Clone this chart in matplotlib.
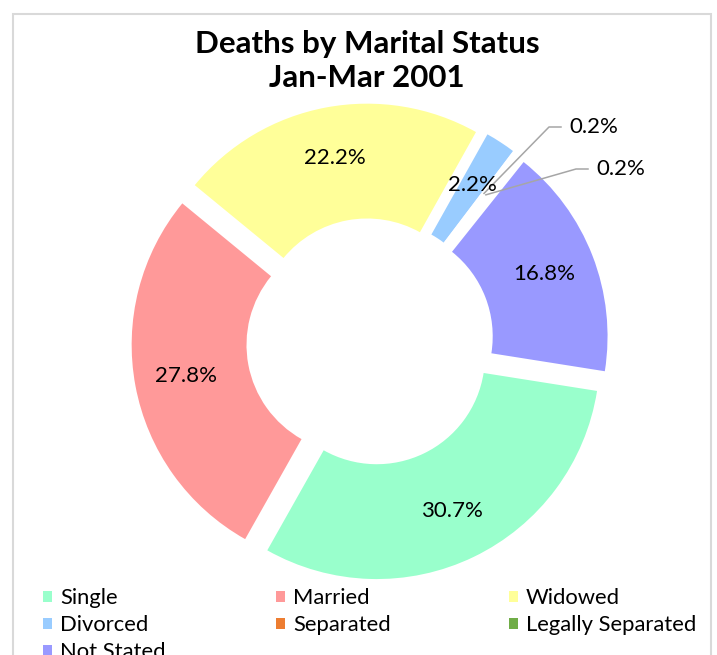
#!/usr/bin/env python3
# coding: utf-8

"""Donut chart of deaths by marital status, Jan-Mar 2001."""

import matplotlib
matplotlib.use("Agg")
import matplotlib.pyplot as plt
from matplotlib.patches import Patch, Rectangle
import numpy as np

statuses = ["Single", "Married", "Widowed", "Divorced", "Separated",
            "Legally Separated", "Not Stated"]
shares = [30.7, 27.8, 22.2, 2.2, 0.2, 0.2, 16.8]
pct_labels = ["30.7%", "27.8%", "22.2%", "2.2%", "0.2%", "0.2%", "16.8%"]
colors = ["#99FFCC", "#FF9999", "#FFFF99", "#99CCFF", "#ED7D31",
          "#70AD47", "#9999FF"]

plt.rcParams["font.family"] = ["Lato", "DejaVu Sans"]

W, H = 717, 655
S = 223.0             # pixels per unit radius
CX, CY = 370, 342     # donut centre in pixels (from top-left)


def px(x, y):
    return ((x - CX) / S, (CY - y) / S)


fig = plt.figure(figsize=(W / 100, H / 100), dpi=100)
ax = fig.add_axes([0, 0, 1, 1])

wedges, _ = ax.pie(shares, colors=colors, startangle=-9, counterclock=False,
                   explode=[0.07] * len(shares), radius=1.0,
                   wedgeprops=dict(width=0.515, linewidth=0))
ax.set_xlim(-CX / S, (W - CX) / S)
ax.set_ylim(-(H - CY) / S, CY / S)
ax.set_aspect("equal")
ax.axis("off")

# tiny slices are swallowed by the gaps in the original
for w, v in zip(wedges, shares):
    if v < 1:
        w.set_edgecolor("white")
        w.set_linewidth(2)

# outside labels for the tiny slices: (text left, y) in pixels
outside = {4: (569, 127), 5: (596, 169)}

for i, w in enumerate(wedges):
    th = np.deg2rad((w.theta1 + w.theta2) / 2)
    x0, y0 = w.center
    mx, my = x0 + 0.77 * np.cos(th), y0 + 0.77 * np.sin(th)
    if i in outside:
        tx, ty = outside[i]
        ex, ey = px(tx - 20, ty)
        fx, fy = px(tx - 8, ty)
        ax.plot([mx, ex, fx], [my, ey, fy], color="#A6A6A6", lw=1.1)
        ax.text(*px(tx, ty), pct_labels[i], ha="left", va="center",
                fontsize=16)
    else:
        ax.text(mx, my, pct_labels[i], ha="center", va="center",
                fontsize=16)

fig.text(367 / W, 1 - 53 / H, "Deaths by Marital Status", ha="center",
         va="baseline", fontsize=22.5, fontweight="bold")
fig.text(367 / W, 1 - 87 / H, "Jan-Mar 2001", ha="center",
         va="baseline", fontsize=22.5, fontweight="bold")

# chart area border
fig.patches.append(Rectangle((13 / W, -0.05), (711 - 13) / W, 1.05 - 14 / H,
                             transform=fig.transFigure, fill=False,
                             edgecolor="#D9D9D9", lw=1.5))

# legend, three columns filled row by row
handles = [Patch(facecolor=c, edgecolor="none") for c in colors]
col_x = [43, 276, 509]
for k, x in enumerate(col_x):
    idx = list(range(k, len(statuses), 3))
    fig.legend([handles[i] for i in idx], [statuses[i] for i in idx],
               loc="upper left", bbox_to_anchor=(x / W, 1 - 588 / H),
               frameon=False, fontsize=15.8, handlelength=0.4,
               handleheight=0.4, handletextpad=0.38, labelspacing=0.33,
               borderpad=0, borderaxespad=0)

fig.savefig("out.png", dpi=100)
